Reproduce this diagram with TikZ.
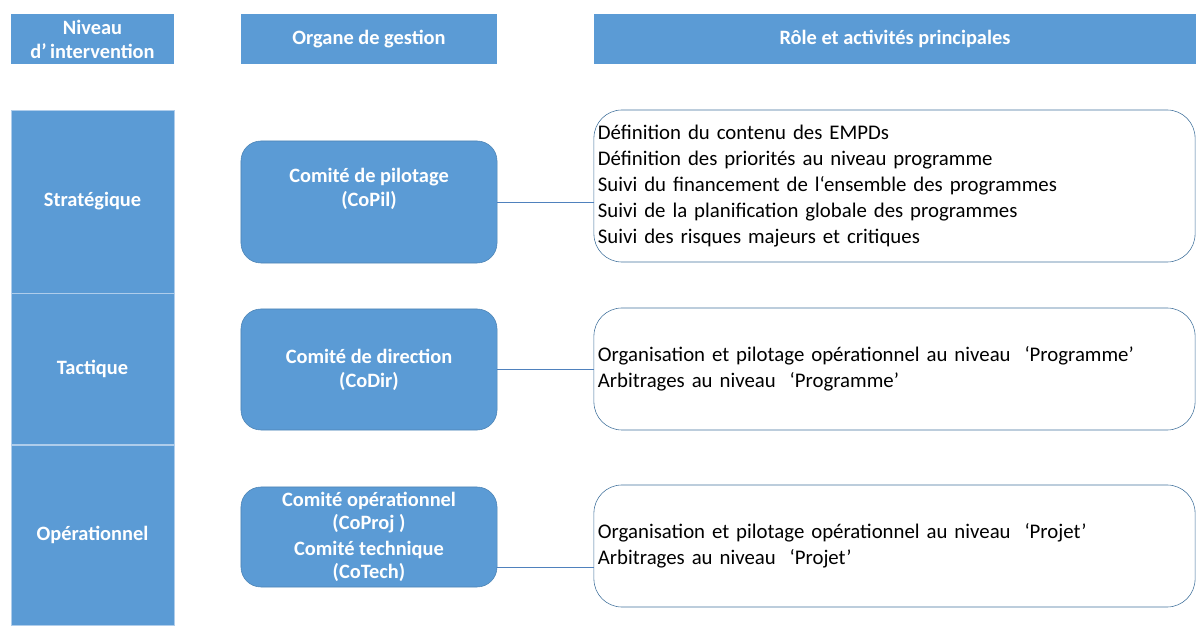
\documentclass[tikz,border=0pt]{standalone}
\usepackage{fontspec}
\setmainfont{Carlito}
\usetikzlibrary{positioning}
\definecolor{bleu}{RGB}{91,155,213}
\definecolor{bord}{RGB}{65,113,156}
\definecolor{bleulien}{RGB}{79,129,189}
\definecolor{separ}{RGB}{175,205,235}
\begin{document}
\begin{tikzpicture}[x=0.025cm,y=-0.025cm,
  blanc/.style={text=white,font=\fontsize{14.5}{17}\selectfont\bfseries,align=center},
  entete/.style={blanc,fill=bleu,minimum height=1.225cm,inner sep=0pt},
  niveau/.style={blanc,fill=bleu,draw=separ,minimum width=4.075cm,inner sep=0pt},
  organe/.style={blanc,fill=bleu,draw=bleu!85!black,rounded corners=0.5cm,minimum width=6.4cm,inner sep=0pt},
  role/.style={draw=bord,rounded corners=0.7cm,minimum width=15.025cm,text width=14.825cm,
    inner xsep=0.1cm,align=left,font=\fontsize{14.8}{18.4}\selectfont},
  lien/.style={draw=bleulien}]
\useasboundingbox (0,0) rectangle (1196,628);
% en-tetes
\node[entete,minimum width=4.075cm] (h1) at (92.5,39) {Niveau\\d’\,intervention};
\node[entete,minimum width=6.4cm] (h2) at (369,39) {Organe de gestion};
\node[entete,minimum width=15.05cm] (h3) at (895,39) {Rôle et activités principales};
% niveaux
\node[niveau,minimum height=4.575cm] (strat) at (92.5,201.5) {Stratégique};
\node[niveau,minimum height=3.775cm,below=0pt of strat] (tact) {Tactique};
\node[niveau,minimum height=4.5cm,below=0pt of tact] (oper) {Opérationnel};
% organes
\node[organe,minimum height=3.05cm] (copil) at (369,202) {};
\node[blanc] (copiltxt) at (369,189) {Comité de pilotage\\(CoPil)};
\node[organe,minimum height=3.025cm] (codir) at (369,369.5) {Comité de direction\\(CoDir)};
\node[organe,minimum height=2.5cm,font=\fontsize{14.5}{16}\selectfont\bfseries] (cotech) at (369,537)
  {Comité opérationnel\\(CoProj )\\[3pt]Comité technique\\(CoTech)};
% roles
\node[role,minimum height=3.8cm] (role1) at (894.5,186) {Définition du contenu des EMPDs\\
  Définition des priorités au niveau programme\\
  Suivi du financement de l‘ensemble des programmes\\
  Suivi de la planification globale des programmes\\
  Suivi des risques majeurs et critiques};
\node[role,minimum height=3.05cm] (role2) at (894.5,369) {Organisation et pilotage opérationnel au niveau\ \ ‘Programme’\\
  Arbitrages au niveau\ \ ‘Programme’};
\node[role,minimum height=3.05cm] (role3) at (894.5,546) {Organisation et pilotage opérationnel au niveau\ \ ‘Projet’\\
  Arbitrages au niveau\ \ ‘Projet’};
% liens
\path[lien] (copil.east) -- (copil.east -| role1.west);
\path[lien] (codir.east) -- (codir.east -| role2.west);
\path[lien] ([yshift=-0.75cm]cotech.east) -- ([yshift=-0.75cm]cotech.east -| role3.west);
\end{tikzpicture}
\end{document}
